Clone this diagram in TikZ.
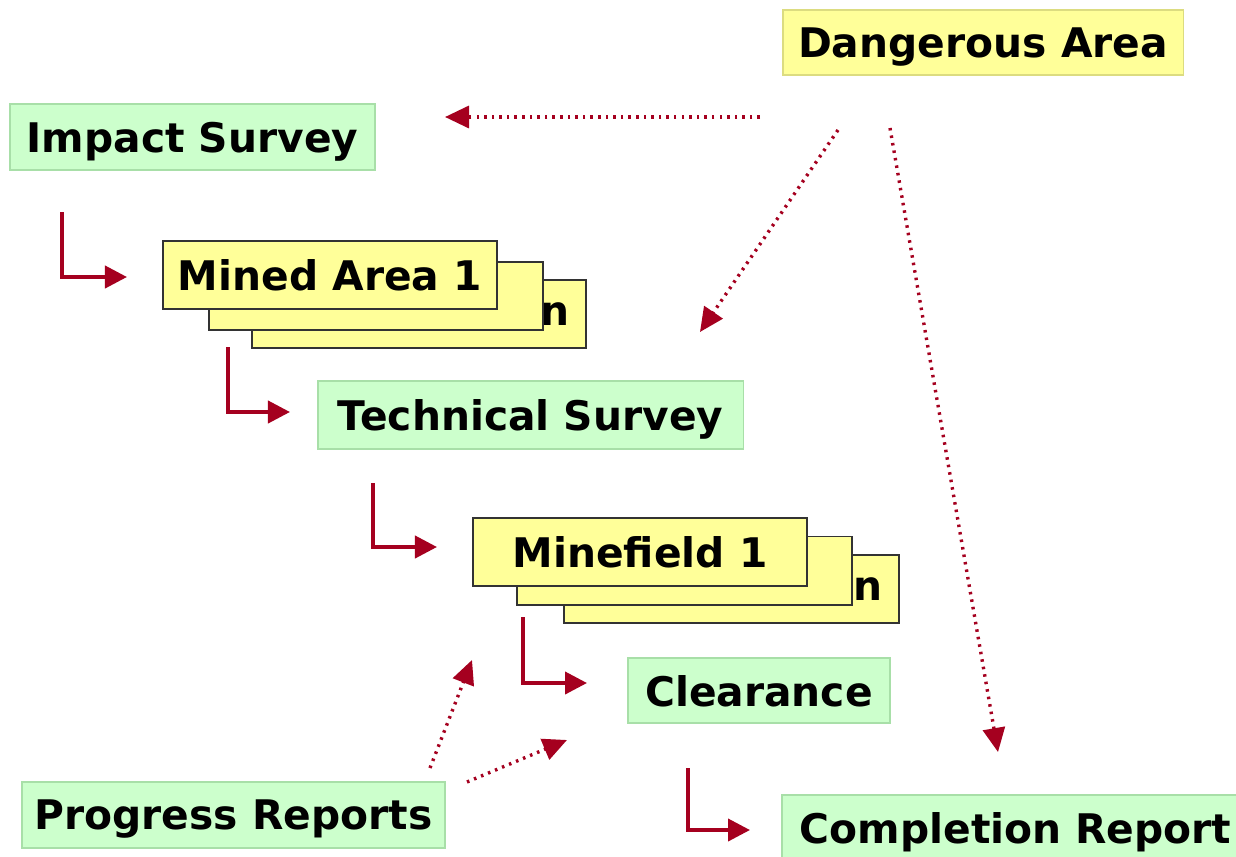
\documentclass[tikz,border=0pt]{standalone}
\usepackage{fontspec}
\setmainfont{DejaVu Sans}
\usepackage{tikz}
\usetikzlibrary{arrows.meta, positioning, calc}

\definecolor{survgreen}{HTML}{CCFFCC}
\definecolor{survedge}{HTML}{A8DFA8}
\definecolor{areayellow}{HTML}{FFFF99}
\definecolor{areaedge}{HTML}{DCDC80}
\definecolor{flowred}{HTML}{A5001F}

\begin{document}
\begin{tikzpicture}[
    x=0.025cm, y=-0.025cm,
    stage/.style={
        rectangle, draw=survedge, line width=0.8pt, fill=survgreen,
        minimum height=1.65cm, inner sep=0pt, text depth=0pt,
        font=\bfseries\fontsize{29}{34}\selectfont
    },
    area/.style={
        rectangle, draw=areaedge, line width=0.8pt, fill=areayellow,
        minimum width=10cm, minimum height=1.625cm, inner sep=0pt, text depth=0pt,
        font=\bfseries\fontsize{29}{34}\selectfont
    },
    card/.style={
        rectangle, draw=black!80, line width=1.4pt, fill=areayellow,
        minimum width=8.35cm, minimum height=1.7cm, inner sep=0pt, text depth=0pt,
        font=\bfseries\fontsize{29}{34}\selectfont
    },
    cardtag/.style={anchor=east, inner sep=0pt, xshift=-0.42cm,
        font=\bfseries\fontsize{29}{34}\selectfont},
    flow/.style={-{Triangle[length=0.55cm, width=0.55cm]}, line width=2.8pt, draw=flowred},
    link/.style={-{Triangle[length=0.6cm, width=0.55cm]}, line width=2.4pt, draw=flowred,
        dash pattern=on 1.8pt off 3.6pt}
]
\clip (0,0) rectangle (1236,856);
\fill[white] (0,0) rectangle (1236,856);

% Top: survey and dangerous area
\node[area] (danger) at (983,42.5) {Dangerous Area};
\node[stage, minimum width=9.125cm] (impact) at (192.5,137) {Impact Survey};

% Mined areas stack
\node[card] (mined3) at (419,314) {};
\node[cardtag] at (mined3.east) {n};
\node[card] (mined2) at (376,296) {};
\node[card] (mined1) at (330,275) {Mined Area 1};

\node[stage, minimum width=10.625cm, minimum height=1.7cm] (tech) at (530.5,415) {Technical Survey};

% Minefields stack
\node[card] (field3) at (731.5,589) {};
\node[cardtag] at (field3.east) {n};
\node[card] (field2) at (684.5,570.5) {};
\node[card] (field1) at (640,552) {Minefield 1};

\node[stage, minimum width=6.55cm, minimum height=1.625cm] (clear) at (759,690.5) {Clearance};
\node[stage, minimum width=10.575cm] (progress) at (233.5,815) {Progress Reports};
\node[stage, minimum width=11.7cm, minimum height=1.625cm, text width=10.8cm, align=left]
    (complete) at (1016,827.5) {Completion Report};

% Flow arrows
\coordinate (f1a) at (62,212);   \coordinate (f1b) at (127,277);
\coordinate (f2a) at (228,347);  \coordinate (f2b) at (290,412);
\coordinate (f3a) at (373,483);  \coordinate (f3b) at (437,547);
\coordinate (f4a) at (523,617);  \coordinate (f4b) at (587,683);
\coordinate (f5a) at (688,768);  \coordinate (f5b) at (750,830);
\foreach \i in {1,...,5}
    \draw[flow] (f\i a) |- (f\i b);

% Dotted links
\coordinate (d1a) at (760,117);  \coordinate (d1b) at (445,117);
\coordinate (d2a) at (838,130);  \coordinate (d2b) at (700,332);
\coordinate (d3a) at (890,128);  \coordinate (d3b) at (998,752);
\coordinate (p1a) at (430,768);  \coordinate (p1b) at (472,660);
\coordinate (p2a) at (467,782);  \coordinate (p2b) at (567,740);
\foreach \s in {d1,d2,d3,p1,p2}
    \draw[link] (\s a) -- (\s b);

\end{tikzpicture}
\end{document}
